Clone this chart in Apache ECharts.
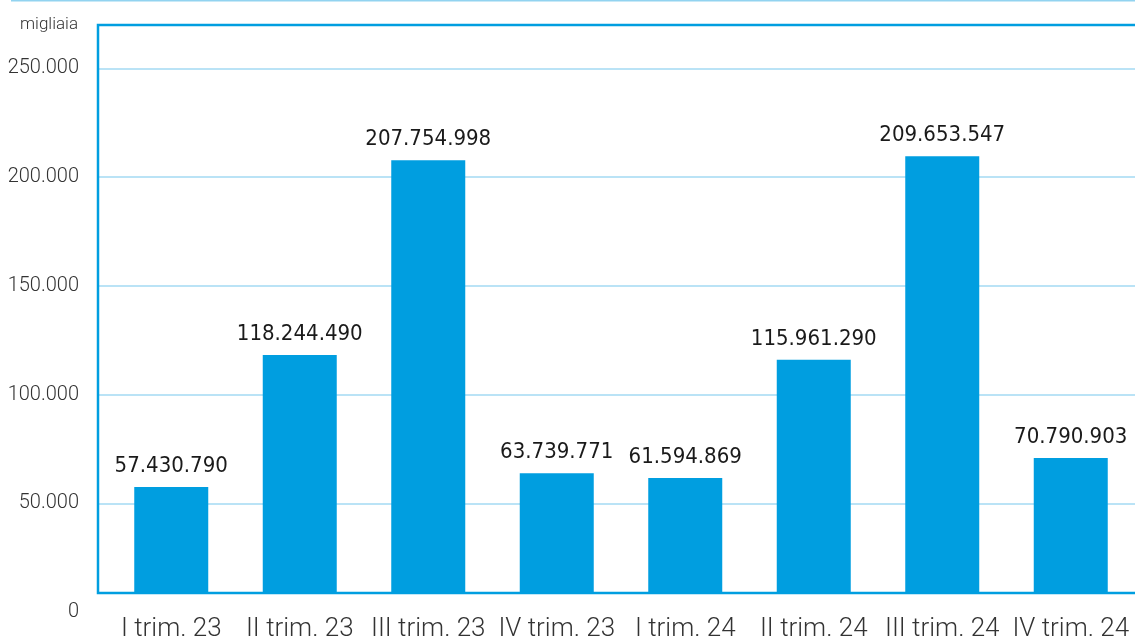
<!DOCTYPE html>
<html lang="it">
  <head>
    <meta charset="UTF-8" />
    <title>Trimestri</title>
    <style>
      body {
        margin: 0;
        background-color: #ffffff;
      }
      #chart {
        width: 1135px;
        height: 639px;
      }
    </style>
  </head>
  <body>
    <div id="chart"></div>
    <script src="https://cdn.jsdelivr.net/npm/echarts@6/dist/echarts.min.js"></script>
    <script>
      const categories = [
        "I trim. 23",
        "II trim. 23",
        "III trim. 23",
        "IV trim. 23",
        "I trim. 24",
        "II trim. 24",
        "III trim. 24",
        "IV trim. 24",
      ];
      const values = [
        57430790, 118244490, 207754998, 63739771, 61594869, 115961290, 209653547,
        70790903,
      ];
      const axisUnit = "migliaia";

      const blue = "#009ee0";
      const lightBlue = "#a3daf3";

      // 1.234.567 style
      const dots = (n) => String(Math.round(n)).replace(/\B(?=(\d{3})+(?!\d))/g, ".");

      const chart = echarts.init(document.querySelector("#chart"));
      chart.setOption({
        backgroundColor: "#ffffff",
        animation: false,
        graphic: [
          {
            type: "line",
            shape: { x1: 11, y1: 0.75, x2: 1135, y2: 0.75 },
            style: { stroke: "#92d3f0", lineWidth: 1.5 },
          },
        ],
        grid: [
          // frame
          {
            left: 98,
            right: -10,
            top: 25,
            bottom: 46,
            outerBoundsMode: "none",
            show: true,
            borderColor: blue,
            borderWidth: 2.5,
            backgroundColor: "transparent",
            z: 3,
          },
          // scale labels + gridlines (0 sits below the axis line, as in the source)
          { left: 98, right: 0, top: 25, bottom: 27, outerBoundsMode: "none" },
          // bars
          { left: 107, right: 0, top: 25, bottom: 46, outerBoundsMode: "none" },
        ],
        xAxis: [
          { gridIndex: 0, type: "value", show: false },
          { gridIndex: 1, type: "value", show: false },
          {
            gridIndex: 2,
            type: "category",
            data: categories,
            axisLine: { show: false },
            axisTick: { show: false },
            axisLabel: {
              interval: 0,
              margin: 23,
              color: "#333333",
              fontFamily: "Roboto",
              fontWeight: 300,
              fontSize: 26,
            },
          },
        ],
        yAxis: [
          { gridIndex: 0, type: "value", show: false },
          {
            gridIndex: 1,
            type: "value",
            min: 0,
            max: 270000000,
            interval: 50000000,
            name: axisUnit,
            nameLocation: "end",
            nameGap: 0,
            nameTextStyle: {
              align: "right",
              verticalAlign: "middle",
              padding: [0, 20, 0, 0],
              color: "#333333",
              fontFamily: "Roboto",
              fontWeight: 300,
              fontSize: 17,
            },
            axisLine: { show: false },
            axisTick: { show: false },
            splitLine: {
              show: true,
              showMinLine: false,
              showMaxLine: false,
              lineStyle: { color: lightBlue, width: 1.5 },
            },
            axisLabel: {
              showMaxLabel: false,
              margin: 19,
              padding: [0, 0, 12, 0],
              color: "#333333",
              fontFamily: "Roboto",
              fontWeight: 300,
              fontSize: 20,
              formatter: (v) => dots(v / 1000),
            },
          },
          {
            gridIndex: 2,
            type: "value",
            min: 8700000,
            max: 270000000,
            show: false,
            splitLine: { show: false },
          },
        ],
        series: [
          {
            type: "bar",
            xAxisIndex: 2,
            yAxisIndex: 2,
            data: values,
            barWidth: 74,
            clip: true,
            itemStyle: { color: blue },
            label: {
              show: true,
              position: "top",
              distance: 10,
              color: "#1a1a1a",
              fontFamily: '"Liberation Sans Narrow", "DejaVu Sans Condensed", sans-serif',
              fontSize: 22,
              formatter: (p) => dots(p.value),
            },
          },
        ],
      });
    </script>
  </body>
</html>
